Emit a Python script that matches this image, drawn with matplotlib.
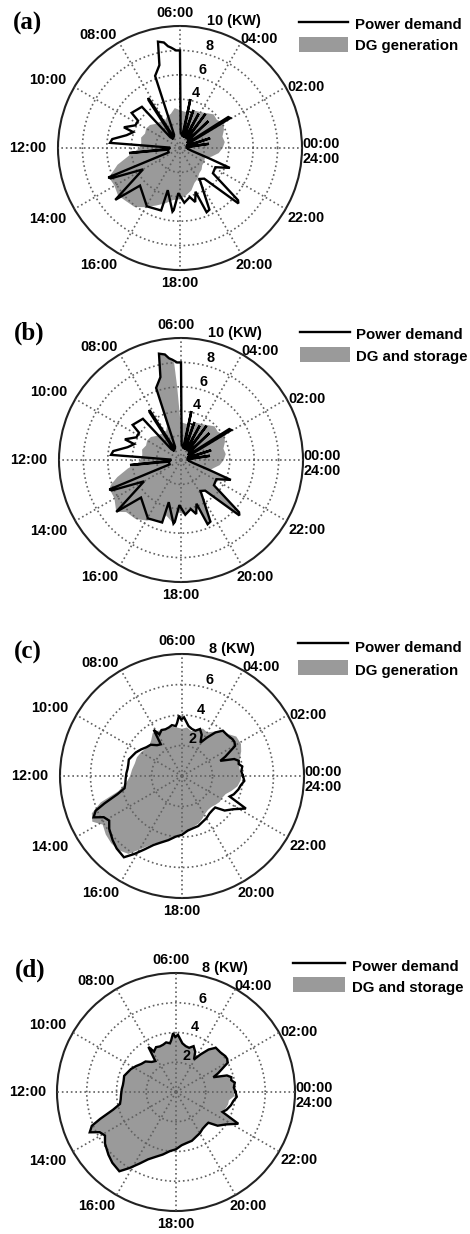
import numpy as np
import matplotlib.pyplot as plt
from matplotlib.lines import Line2D
from matplotlib.patches import Rectangle

W, H = 470, 1234

# ---- data (hour of day, kW) ----
# power demand, panels (a) and (b)
t_dem1 = [0.00, 0.40, 0.55, 0.70, 1.05, 1.20, 1.35, 1.90, 2.05, 2.18, 2.30, 2.75, 2.90, 3.00,
          3.40, 3.55, 3.65, 3.95, 4.10, 4.20, 4.55, 4.70, 4.80, 5.05, 5.20, 5.30, 5.85, 6.00,
          6.15, 6.33, 6.45, 6.58, 6.78, 6.93, 7.27, 7.60, 8.00, 8.15, 8.22, 8.40, 8.80, 8.85,
          9.60, 9.80, 10.20, 10.65, 10.75, 11.10, 11.50, 11.72, 11.85, 12.25, 12.38, 12.50,
          13.40, 13.49, 13.58, 14.00, 14.58, 14.88, 16.03, 16.88, 16.92, 17.55, 17.62, 17.86,
          18.30, 18.75, 19.05, 19.30, 19.50, 19.70, 20.15, 20.55, 21.10, 21.20, 21.50, 22.10,
          22.55, 22.70, 23.10, 23.50, 24.00]
p_dem1 = [0.6, 0.5, 2.4, 0.5, 0.6, 2.6, 0.6, 0.8, 4.8, 4.7, 0.7, 0.9, 3.2, 0.9,
          1.0, 3.5, 1.0, 1.0, 3.2, 1.0, 1.0, 3.3, 1.0, 1.0, 4.1, 1.0, 1.3, 8.0,
          8.0, 8.25, 8.4, 8.75, 8.9, 7.0, 6.25, 1.2, 1.0, 4.85, 4.7, 0.9, 1.2, 4.6,
          4.9, 4.1, 4.1, 4.9, 4.05, 4.5, 5.6, 5.75, 0.8, 0.9, 4.2, 1.0,
          1.0, 6.35, 6.2, 3.5, 6.8, 4.5, 5.5, 5.35, 3.6, 5.25, 5.1, 3.7,
          4.5, 4.1, 4.6, 3.8, 5.7, 5.6, 3.0, 3.2, 6.6, 6.4, 3.4, 3.3,
          4.4, 2.5, 1.0, 0.7, 0.6]

# DG generation, panel (a)
t_gen_a = [0.0, 0.5, 1.0, 1.5, 2.0, 2.5, 3.0, 3.5, 4.0, 4.5, 5.0, 5.5, 6.0, 6.5, 7.0, 7.5,
           8.0, 8.5, 9.0, 9.5, 10.0, 10.5, 11.0, 11.5, 12.0, 12.5, 13.0, 13.5, 14.0, 14.5,
           15.0, 15.5, 16.0, 16.5, 17.0, 17.5, 18.0, 18.5, 19.0, 19.5, 20.0, 20.5, 21.0,
           21.5, 22.0, 22.5, 23.0, 23.5, 24.0]
p_gen_a = [3.5, 3.7, 3.6, 3.9, 4.1, 3.8, 3.9, 3.6, 3.4, 3.3, 2.9, 3.0, 3.1, 3.3, 2.9, 2.8,
           2.5, 2.7, 2.8, 3.1, 3.2, 3.1, 3.3, 3.2, 3.3, 4.1, 5.3, 6.3, 6.2, 6.4,
           6.2, 6.1, 5.6, 5.1, 4.7, 4.3, 4.2, 3.9, 3.6, 3.1, 2.9, 2.6, 2.5,
           2.3, 2.3, 2.2, 2.7, 3.2, 3.5]

# DG and storage, panel (b)
t_gen_b = [0.0, 0.5, 1.0, 1.5, 2.0, 2.5, 3.0, 3.5, 4.0, 4.5, 5.0, 5.5, 6.05, 6.2, 6.27, 6.45,
           6.58, 6.78, 6.93, 7.27, 7.5, 8.0, 8.5, 9.0, 9.5, 10.0, 10.5, 11.0, 11.5, 12.0,
           12.3, 12.6, 13.0, 13.3, 13.49, 13.6, 14.0, 14.58, 14.9, 15.5, 16.03, 16.5, 16.88,
           17.0, 17.55, 17.8, 18.3, 18.75, 19.05, 19.3, 19.5, 19.7, 20.1, 20.55, 21.1, 21.2,
           21.5, 22.1, 22.55, 22.7, 23.0, 23.5, 24.0]
p_gen_b = [3.5, 3.7, 3.6, 3.9, 4.1, 3.8, 3.9, 3.6, 3.4, 3.3, 2.9, 3.0, 3.1, 6.0, 8.0, 8.4,
           8.75, 8.85, 7.0, 6.2, 3.0, 2.5, 2.7, 2.8, 3.1, 3.2, 3.1, 3.3, 3.2, 3.3,
           3.6, 4.4, 5.4, 6.1, 6.35, 6.3, 6.3, 6.8, 6.2, 6.1, 5.7, 5.3, 5.35,
           4.7, 5.25, 4.3, 4.5, 4.1, 4.6, 3.8, 5.7, 5.6, 3.0, 3.2, 6.6, 6.4,
           3.4, 3.3, 4.4, 2.5, 2.7, 3.2, 3.5]

# power demand, panels (c) and (d)
t_dem2 = [0.0, 0.3, 0.6, 0.8, 1.0, 1.2, 1.44, 1.6, 1.97, 2.2, 2.4, 2.8, 3.2, 3.5, 3.8, 4.07,
          4.3, 4.6, 4.9, 5.2, 5.5, 5.87, 6.05, 6.19, 6.35, 6.47, 6.75, 7.0, 7.3, 7.6, 7.9,
          8.1, 8.25, 8.6, 9.0, 9.4, 9.8, 10.2, 10.5, 10.85, 11.2, 11.5, 11.8, 12.2, 12.5,
          12.8, 13.05, 13.3, 13.46, 13.67, 13.85, 14.1, 14.4, 14.86, 15.2, 15.63, 15.9, 16.2,
          16.5, 16.8, 17.2, 17.6, 18.0, 18.4, 18.8, 19.2, 19.6, 20.0, 20.4, 20.8, 21.1, 21.4,
          21.8, 22.2, 22.45, 22.7, 23.1, 23.4, 23.7, 24.0]
p_dem2 = [4.0, 3.9, 4.0, 3.8, 3.85, 3.6, 2.7, 3.1, 4.0, 4.1, 4.1, 4.0, 4.0, 3.6, 3.0, 2.5,
          3.0, 3.3, 3.1, 3.15, 3.3, 3.85, 3.7, 3.96, 3.5, 3.3, 3.4, 3.3, 3.25, 3.3, 3.1,
          3.55, 2.5, 2.6, 2.9, 3.0, 3.2, 3.4, 3.5, 3.65, 3.6, 3.6, 3.65, 3.7, 3.75,
          3.85, 4.4, 5.4, 6.1, 6.4, 5.8, 5.6, 5.9, 6.2, 6.4, 6.55, 6.0, 5.4,
          4.9, 4.6, 4.3, 4.0, 3.85, 3.6, 3.5, 3.45, 3.3, 3.2, 3.05, 3.0, 3.0, 3.6,
          4.0, 4.7, 3.4, 3.6, 3.8, 3.9, 4.1, 4.0]

# DG generation, panel (c)
t_gen_c = [0.0, 0.5, 1.0, 1.5, 1.9, 2.4, 2.8, 3.2, 3.6, 4.0, 4.4, 4.8, 5.2, 5.6, 6.0, 6.4,
           6.8, 7.2, 7.6, 8.0, 8.3, 8.7, 9.2, 9.6, 10.0, 10.5, 11.0, 11.5, 12.0, 12.5, 12.9,
           13.2, 13.5, 13.8, 14.1, 14.5, 14.9, 15.3, 15.7, 16.1, 16.5, 16.9, 17.3, 17.7,
           18.1, 18.5, 18.9, 19.3, 19.7, 20.1, 20.5, 20.9, 21.3, 21.7, 22.1, 22.5, 22.9,
           23.3, 23.7, 24.0]
p_gen_c = [3.9, 3.8, 3.9, 4.2, 4.4, 4.4, 4.1, 4.0, 3.6, 3.3, 3.4, 3.2, 3.0, 3.2, 3.1, 3.2,
           3.3, 3.2, 3.3, 3.4, 3.4, 3.1, 2.9, 3.0, 3.1, 3.2, 3.2, 3.3, 3.4, 3.7, 4.3,
           5.6, 6.4, 6.6, 6.1, 6.3, 6.4, 6.4, 6.2, 5.4, 4.8, 4.5, 4.2, 3.9,
           3.7, 3.5, 3.4, 3.3, 3.1, 2.9, 2.8, 2.8, 2.9, 3.0, 3.0, 3.1, 3.4,
           3.7, 3.85, 3.9]

# DG and storage, panel (d) (same time stamps as demand)
p_gen_d = [3.95, 3.9, 4.0, 3.8, 3.85, 3.6, 2.7, 3.1, 4.0, 4.1, 4.1, 4.0, 4.0, 3.6, 3.0, 2.5,
           3.0, 3.3, 3.1, 3.15, 3.3, 3.85, 3.7, 3.96, 3.5, 3.3, 3.4, 3.3, 3.25, 3.3, 3.1,
           3.55, 2.5, 2.6, 2.9, 3.0, 3.2, 3.4, 3.5, 3.65, 3.6, 3.6, 3.65, 3.7, 3.75,
           3.85, 4.4, 5.4, 6.1, 6.4, 5.8, 5.6, 5.9, 6.2, 6.4, 6.55, 6.0, 5.4,
           4.9, 4.6, 4.3, 4.0, 3.85, 3.6, 3.5, 3.45, 3.3, 3.2, 3.05, 3.0, 3.0, 3.6,
           4.0, 4.6, 3.4, 3.5, 3.6, 3.6, 3.9, 3.95]

hour_labels = ["00:00\n24:00", "02:00", "04:00", "06:00", "08:00", "10:00",
               "12:00", "14:00", "16:00", "18:00", "20:00", "22:00"]
# label centres, in units of the circle radius
label_xy = [(1.16, -0.03), (1.03, 0.50), (0.65, 0.89), (-0.04, 1.11), (-0.67, 0.93),
            (-1.08, 0.56), (-1.25, 0.0), (-1.08, -0.58), (-0.67, -0.96), (0.0, -1.11),
            (0.61, -0.96), (1.03, -0.57)]

GRAY = "#9a9a9a"
SANS = "Liberation Sans"

panels = [
    dict(tag="(a)", c=(180, 148), R=122, rmax=10, dem=(t_dem1, p_dem1), gen=(t_gen_a, p_gen_a),
         name="DG generation", tag_xy=(28, 23), leg=(299, 348, 22, 37, 52, 355, 25, 46)),
    dict(tag="(b)", c=(181, 460), R=122, rmax=10, dem=(t_dem1, p_dem1), gen=(t_gen_b, p_gen_b),
         name="DG and storage", tag_xy=(29, 333), leg=(300, 350, 332, 347, 362, 356, 335, 357)),
    dict(tag="(c)", c=(182, 776), R=122, rmax=8, dem=(t_dem2, p_dem2), gen=(t_gen_c, p_gen_c),
         name="DG generation", tag_xy=(28, 652), leg=(298, 348, 643, 660, 675, 355, 648, 671)),
    dict(tag="(d)", c=(176, 1092), R=119, rmax=8, dem=(t_dem2, p_dem2), gen=(t_dem2, p_gen_d),
         name="DG and storage", tag_xy=(30, 970), leg=(293, 345, 963, 977, 992, 352, 967, 988)),
]


def to_theta(hours):
    return np.asarray(hours) / 24.0 * 2 * np.pi


fig = plt.figure(figsize=(W / 100, H / 100), dpi=100)

for p in panels:
    cx, cy = p["c"]
    R = p["R"]
    rmax = p["rmax"]
    ax = fig.add_axes([(cx - R) / W, 1 - (cy + R) / H, 2 * R / W, 2 * R / H], projection="polar")
    ax.set_theta_zero_location("E")
    ax.set_ylim(0, rmax)

    tg, pg = p["gen"]
    ax.fill(to_theta(tg), pg, color=GRAY, lw=0, zorder=1)
    td, pd_ = p["dem"]
    ax.plot(to_theta(td), pd_, color="black", lw=1.7, zorder=3, solid_joinstyle="miter")

    ax.set_xticks(np.deg2rad(np.arange(0, 360, 30)))
    ax.set_xticklabels([])
    ax.set_yticks(list(range(2, rmax, 2)))
    ax.set_yticklabels([])
    ax.tick_params(length=0)
    ax.grid(True, color="#606060", lw=1.2, ls=(0, (1, 1.7)))
    ax.set_axisbelow(False)
    ax.spines["polar"].set_linewidth(1.5)
    ax.spines["polar"].set_color("#222222")

    # hour labels around the circle
    for lab, (dx, dy) in zip(hour_labels, label_xy):
        ax.text(0.5 + 0.5 * dx, 0.5 + 0.5 * dy, lab, transform=ax.transAxes,
                ha="center", va="center", fontsize=10.4, fontweight="bold",
                family=SANS, linespacing=1.1)

    # radial labels
    px_per_kw = R / rmax
    for v in range(2, rmax, 2):
        z = 0.5 if (rmax == 10 and v == 2) else 4
        ax.text(np.deg2rad(74), v + 8 / px_per_kw, str(v), ha="center", va="center",
                fontsize=10.4, fontweight="bold", family=SANS, zorder=z)
    ax.text(np.deg2rad(78), rmax * 1.065, f"{rmax} (KW)", ha="left", va="center",
            fontsize=10.4, fontweight="bold", family=SANS, clip_on=False)

    # panel tag
    tx, ty = p["tag_xy"]
    fig.text(tx / W, 1 - ty / H, p["tag"], ha="center", va="center", fontsize=18,
             fontweight="bold", family="Liberation Serif")

    # legend
    x0, x1, ly, py0, py1, txx, ty1, ty2 = p["leg"]
    fig.add_artist(Line2D([x0 / W, x1 / W], [1 - ly / H, 1 - ly / H], color="black", lw=1.7,
                          transform=fig.transFigure))
    fig.add_artist(Rectangle((x0 / W, 1 - py1 / H), (x1 - x0) / W, (py1 - py0) / H,
                             facecolor=GRAY, edgecolor="none", transform=fig.transFigure))
    fig.text(txx / W, 1 - ty1 / H, "Power demand", ha="left", va="center", fontsize=10.8,
             fontweight="bold", family=SANS)
    fig.text(txx / W, 1 - ty2 / H, p["name"], ha="left", va="center", fontsize=10.8,
             fontweight="bold", family=SANS)

fig.savefig("out.png", dpi=100)
